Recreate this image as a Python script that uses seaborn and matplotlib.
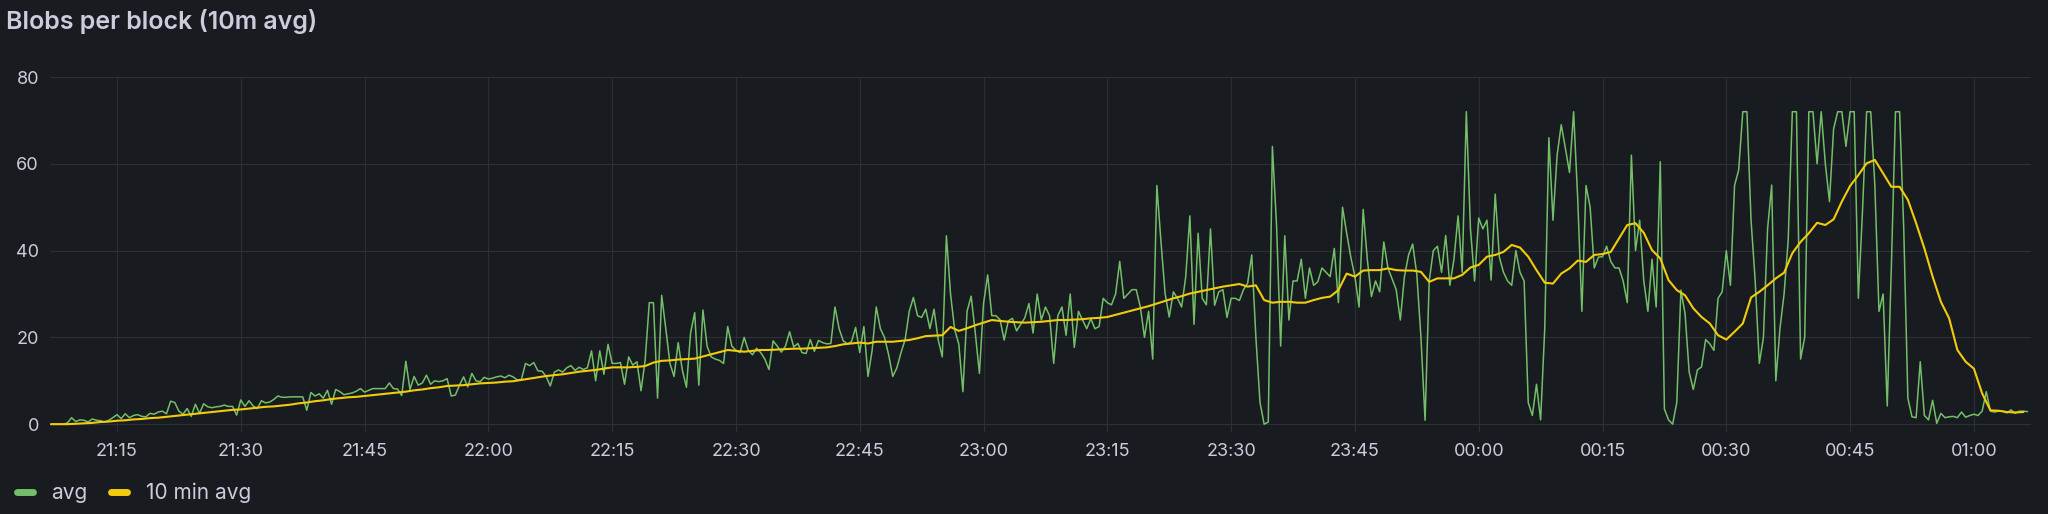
import numpy as np
import pandas as pd
import seaborn as sns
import matplotlib
matplotlib.use("Agg")
import matplotlib.pyplot as plt
import matplotlib.dates as mdates
from matplotlib.lines import Line2D

start = pd.Timestamp("2024-03-13 21:07:00")

# "avg" - one value every 30 s from 21:07:00 (20 values = 10 minutes per row)
avg_values = [
    0, 0, 0, 0, 0.3, 1.5, 0.6, 1.0, 0.9, 0.5, 1.2, 0.9, 0.8, 0.5, 0.9, 1.5, 2.2, 1.3, 2.4, 1.5,
    2.0, 2.2, 1.8, 1.7, 2.5, 2.3, 2.8, 3.0, 2.4, 5.3, 5.0, 3.0, 2.3, 3.6, 1.8, 4.6, 2.5, 4.7, 4.0, 3.8,
    4.0, 4.1, 4.4, 4.1, 4.1, 2.1, 5.6, 4.1, 5.4, 4.2, 3.6, 5.4, 4.9, 5.1, 5.7, 6.5, 6.2, 6.2, 6.3, 6.3,
    6.3, 6.3, 3.2, 7.3, 6.5, 7.0, 6.0, 7.8, 4.6, 8.0, 7.5, 6.8, 7.0, 7.2, 7.6, 8.2, 7.4, 7.8, 8.2, 8.2,
    8.2, 8.2, 9.5, 8.2, 8.1, 6.6, 14.5, 8.0, 11.0, 9.0, 9.5, 11.3, 9.2, 10.0, 9.8, 10.0, 10.5, 6.5, 6.7, 9.0,
    10.9, 8.6, 11.7, 10.0, 9.8, 10.8, 10.4, 10.6, 10.9, 11.1, 10.7, 11.3, 10.9, 10.2, 10.3, 14.0, 13.5, 14.2, 12.3, 12.2,
    11.0, 8.8, 12.0, 12.5, 12.0, 13.0, 13.5, 12.4, 13.1, 12.6, 13.0, 16.9, 10.0, 16.9, 11.5, 18.4, 14.0, 14.0, 14.2, 9.2,
    15.5, 13.6, 14.4, 7.7, 14.8, 28.0, 28.0, 6.0, 29.7, 22.0, 14.0, 11.0, 18.8, 12.5, 8.5, 21.0, 25.7, 9.0, 26.3, 18.0,
    15.5, 15.0, 14.7, 14.0, 22.5, 18.0, 17.0, 16.5, 20.0, 17.0, 16.0, 17.5, 16.5, 15.0, 12.6, 19.2, 18.0, 16.6, 18.0, 21.3,
    17.8, 18.6, 16.5, 16.3, 19.5, 16.8, 19.3, 18.8, 18.5, 18.6, 27.0, 22.0, 19.2, 18.5, 19.0, 22.3, 16.5, 22.5, 11.0, 17.0,
    27.0, 22.0, 20.0, 16.0, 11.0, 13.0, 16.5, 19.5, 26.0, 29.2, 25.0, 24.6, 26.5, 22.0, 26.5, 19.5, 15.5, 43.4, 30.0, 21.8,
    18.5, 7.5, 26.0, 29.5, 21.0, 11.7, 27.8, 34.4, 25.0, 25.0, 24.1, 19.4, 23.8, 24.4, 21.5, 23.0, 24.5, 27.8, 21.0, 30.0,
    24.0, 27.0, 25.0, 14.0, 25.0, 27.0, 20.5, 30.0, 17.7, 26.0, 24.0, 22.0, 24.3, 22.0, 22.5, 29.0, 28.0, 27.5, 30.0, 37.5,
    29.0, 30.0, 31.0, 31.0, 27.0, 20.0, 26.0, 15.0, 55.0, 42.0, 30.1, 24.7, 30.5, 29.0, 27.0, 34.0, 48.0, 23.0, 44.0, 29.0,
    27.5, 45.0, 27.4, 30.5, 31.0, 24.6, 29.0, 29.0, 28.5, 31.0, 32.5, 39.0, 20.0, 5.0, 0.0, 0.5, 64.0, 46.0, 18.0, 43.4,
    24.0, 33.0, 33.0, 38.0, 29.0, 36.0, 32.0, 32.8, 36.0, 35.0, 34.0, 40.5, 28.0, 50.0, 44.0, 38.5, 34.0, 27.0, 49.5, 38.0,
    29.4, 33.0, 30.5, 42.0, 36.0, 33.5, 31.0, 24.0, 34.0, 39.0, 41.5, 34.5, 20.0, 0.9, 33.0, 40.0, 41.0, 35.0, 43.5, 32.0,
    38.0, 48.0, 35.0, 72.0, 45.0, 33.0, 47.5, 45.0, 47.0, 33.2, 53.0, 38.5, 35.0, 33.0, 32.0, 40.0, 35.0, 33.0, 5.0, 2.0,
    9.2, 1.0, 22.0, 66.0, 47.0, 62.0, 69.0, 63.6, 58.0, 72.0, 51.7, 26.0, 55.0, 50.0, 36.0, 38.5, 38.6, 41.0, 37.5, 36.0,
    36.0, 33.0, 28.0, 62.0, 40.0, 47.0, 33.0, 26.0, 38.0, 27.0, 60.5, 3.5, 1.0, 0.0, 5.0, 30.9, 25.5, 12.0, 8.0, 12.5,
    13.2, 19.5, 18.5, 17.0, 29.0, 30.5, 40.0, 32.0, 55.0, 58.6, 72.0, 72.0, 47.0, 33.0, 14.0, 20.0, 45.0, 55.1, 10.0, 22.0,
    30.0, 42.4, 72.0, 72.0, 15.0, 20.0, 72.0, 72.0, 60.0, 72.0, 60.0, 51.3, 68.0, 72.0, 72.0, 64.0, 72.0, 72.0, 29.0, 49.0,
    72.0, 72.0, 55.0, 26.0, 30.0, 4.2, 36.3, 72.0, 72.0, 45.0, 6.0, 1.7, 1.5, 14.4, 2.0, 1.0, 5.5, 0.2, 2.5, 1.5,
    1.7, 1.8, 1.5, 2.8, 1.6, 2.0, 2.3, 2.0, 3.0, 7.5, 3.0, 2.8, 3.0, 3.0, 2.6, 3.3, 2.5, 3.0, 3.0, 2.9,
]

# "10 min avg" - one value per minute from 21:07 (10 values per row)
avg10_values = [
    0, 0, 0, 0.1, 0.2, 0.3, 0.5, 0.6, 0.8, 0.9,
    1.1, 1.2, 1.4, 1.5, 1.7, 1.9, 2.1, 2.3, 2.5, 2.7,
    2.9, 3.1, 3.3, 3.4, 3.6, 3.8, 4.0, 4.1, 4.3, 4.5,
    4.8, 5.0, 5.3, 5.5, 5.8, 6.0, 6.2, 6.3, 6.5, 6.7,
    6.9, 7.1, 7.3, 7.5, 7.8, 8.0, 8.3, 8.5, 8.8, 8.9,
    9.0, 9.2, 9.4, 9.5, 9.6, 9.8, 9.9, 10.2, 10.5, 10.8,
    11.1, 11.3, 11.5, 11.8, 12.1, 12.3, 12.5, 12.8, 13.1, 13.1,
    13.1, 13.2, 13.4, 14.2, 14.6, 14.7, 14.9, 15.0, 15.1, 15.6,
    16.1, 16.6, 17.1, 16.9, 16.7, 16.9, 17.1, 17.1, 17.2, 17.3,
    17.4, 17.4, 17.5, 17.6, 17.7, 18.0, 18.4, 18.6, 18.8, 18.6,
    19.0, 19.0, 19.0, 19.2, 19.4, 19.8, 20.3, 20.4, 20.5, 22.4,
    21.5, 22.1, 22.8, 23.4, 24.0, 23.8, 23.6, 23.5, 23.4, 23.5,
    23.6, 23.8, 24.0, 24.0, 24.1, 24.2, 24.4, 24.5, 24.7, 25.2,
    25.7, 26.2, 26.7, 27.2, 27.8, 28.4, 29.0, 29.5, 30.1, 30.5,
    30.9, 31.3, 31.7, 32.0, 32.3, 31.7, 32.0, 28.6, 28.0, 28.2,
    28.2, 28.0, 28.0, 28.6, 29.1, 29.4, 30.9, 34.7, 34.0, 35.4,
    35.5, 35.5, 35.9, 35.5, 35.4, 35.4, 35.1, 32.8, 33.6, 33.6,
    33.6, 34.4, 36.1, 36.7, 38.6, 39.0, 39.7, 41.3, 40.7, 38.6,
    35.5, 32.6, 32.4, 34.7, 35.9, 37.7, 37.4, 39.0, 39.2, 39.7,
    42.8, 45.9, 46.3, 44.1, 40.1, 38.2, 33.2, 30.9, 29.7, 26.7,
    24.7, 23.2, 20.5, 19.5, 21.3, 23.2, 29.2, 30.5, 32.0, 33.6,
    34.9, 39.4, 42.0, 44.0, 46.4, 45.9, 47.2, 51.3, 54.9, 57.4,
    60.1, 60.9, 57.8, 54.7, 54.7, 51.7, 46.3, 40.5, 34.0, 28.2,
    24.4, 17.1, 14.4, 12.8, 7.1, 3.2, 3.1, 2.8, 2.7, 2.8,
]

series_names = ["avg", "10 min avg"]
series_colors = ["#73BF69", "#F2CC0C"]
y_ticks = [0, 20, 40, 60, 80]
title = "Blobs per block (10m avg)"

avg_df = pd.DataFrame({
    "time": start + pd.to_timedelta(np.arange(len(avg_values)) * 30, unit="s"),
    "value": avg_values,
})
avg10_df = pd.DataFrame({
    "time": start + pd.to_timedelta(np.arange(len(avg10_values)), unit="min"),
    "value": avg10_values,
})

bg = "#181b1f"
text_color = "#ccccdc"
grid_color = "#2c2f35"

sns.set_theme(style="dark", rc={
    "axes.facecolor": bg,
    "figure.facecolor": bg,
    "text.color": text_color,
    "xtick.color": text_color,
    "ytick.color": text_color,
    "axes.edgecolor": bg,
})
plt.rcParams["font.family"] = ["Inter", "DejaVu Sans"]

W, H = 2048, 514
fig = plt.figure(figsize=(W / 100, H / 100), dpi=100)
ax = fig.add_axes([50 / W, 82 / H, 1981 / W, 355 / H])

sns.lineplot(data=avg_df, x="time", y="value", ax=ax, color=series_colors[0],
             linewidth=1.1, estimator=None, errorbar=None, legend=False)
sns.lineplot(data=avg10_df, x="time", y="value", ax=ax, color=series_colors[1],
             linewidth=1.5, estimator=None, errorbar=None, legend=False)

ax.set_xlim(start - pd.Timedelta(seconds=7), start + pd.Timedelta(seconds=239.92 * 60))
ax.set_ylim(-1.8, 80)
ax.set_yticks(y_ticks)
ax.xaxis.set_major_locator(mdates.MinuteLocator(byminute=[0, 15, 30, 45]))
ax.xaxis.set_major_formatter(mdates.DateFormatter("%H:%M"))
ax.set_xlabel("")
ax.set_ylabel("")
ax.grid(True, color=grid_color, linewidth=0.8)
ax.tick_params(axis="both", length=0, labelsize=13, pad=8)
for s in ax.spines.values():
    s.set_visible(False)

fig.text(6 / W, 1 - 29 / H, title, fontsize=18, fontweight="semibold",
         color=text_color, ha="left", va="baseline")

handles = [Line2D([0], [0], color=c, lw=5, solid_capstyle="round") for c in series_colors]
fig.legend(handles, series_names, loc="center left", bbox_to_anchor=(16.5 / W, 21 / H),
           frameon=False, fontsize=15, handlelength=0.77, handletextpad=0.9,
           columnspacing=1.13, ncol=2, borderpad=0, borderaxespad=0, labelcolor=text_color)

fig.savefig("out.png", dpi=100, facecolor=bg)
